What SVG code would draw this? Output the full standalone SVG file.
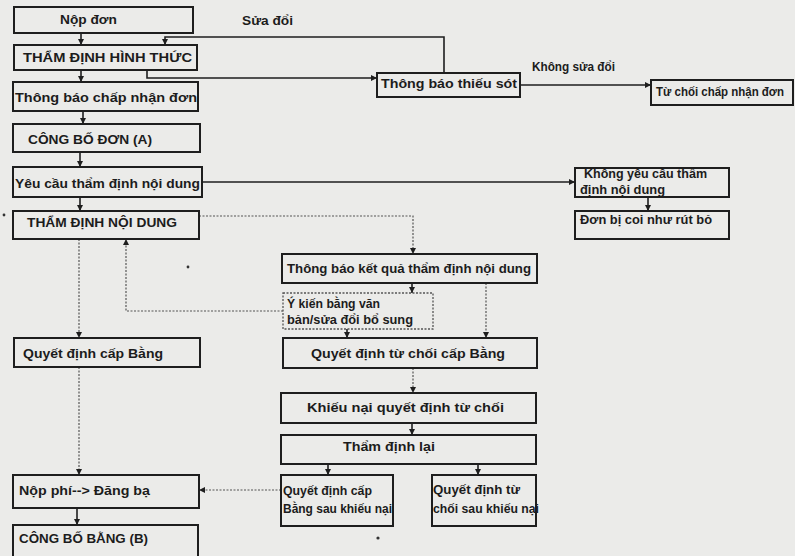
<svg xmlns="http://www.w3.org/2000/svg" width="795" height="556" viewBox="0 0 795 556">
<style>
.bx{fill:none;stroke:#1e1e1e;stroke-width:2}
.bd{fill:none;stroke:#555;stroke-width:1.3;stroke-dasharray:2 1.5}
.t{font-family:"Liberation Sans",Arial,sans-serif;font-weight:bold;font-size:13px;fill:#1c1c1c}
.s{font-size:12px}
.c{fill:none;stroke:#1e1e1e;stroke-width:1.6}
.d{fill:none;stroke:#555;stroke-width:1.2;stroke-dasharray:2 1.5}
</style>
<defs>
<marker id="ah" viewBox="0 0 10 10" refX="10" refY="5" markerWidth="7" markerHeight="6" orient="auto" markerUnits="userSpaceOnUse"><path d="M0,0 L10,5 L0,10 z" fill="#1e1e1e"/></marker>
</defs>
<rect width="795" height="556" fill="#ebebe9"/>
<g id="connectors">
<path class="c" d="M81,33 V45" marker-end="url(#ah)"/>
<path class="c" d="M81,70 V82" marker-end="url(#ah)"/>
<path class="c" d="M83,111 V124" marker-end="url(#ah)"/>
<path class="c" d="M80,152 V167" marker-end="url(#ah)"/>
<path class="c" d="M80,197 V211" marker-end="url(#ah)"/>
<path class="c" d="M444,73 V37 H165 V45" marker-end="url(#ah)"/>
<path class="c" d="M147,70 V78 H377" marker-end="url(#ah)"/>
<path class="c" d="M520,85 H651" marker-end="url(#ah)"/>
<path class="c" d="M202,182 H575" marker-end="url(#ah)"/>
<path class="c" d="M648,197 V211" marker-end="url(#ah)"/>
<path class="d" d="M199,216 H413 V254" marker-end="url(#ah)"/>
<path class="c" d="M412,283 V293" marker-end="url(#ah)"/>
<path class="d" d="M486,283 V338" marker-end="url(#ah)"/>
<path class="c" d="M347,329 V338" marker-end="url(#ah)"/>
<path class="d" d="M283,311 H126 V239" marker-end="url(#ah)"/>
<path class="d" d="M79,239 V338" marker-end="url(#ah)"/>
<path class="d" d="M79,367 V475" marker-end="url(#ah)"/>
<path class="d" d="M413,368 V393" marker-end="url(#ah)"/>
<path class="c" d="M412,423 V435" marker-end="url(#ah)"/>
<path class="c" d="M328,464 V475" marker-end="url(#ah)"/>
<path class="c" d="M478,464 V475" marker-end="url(#ah)"/>
<path class="d" d="M281,490 H199" marker-end="url(#ah)"/>
<path class="c" d="M77,508 V525" marker-end="url(#ah)"/>
<text class="t" x="242" y="25" textLength="51" lengthAdjust="spacingAndGlyphs">Sửa đổi</text>
<text class="t s" x="532" y="71" textLength="83" lengthAdjust="spacingAndGlyphs">Không sửa đổi</text>
</g>
<g id="n1"><rect class="bx" x="14" y="7" width="179" height="26"/><text class="t" x="60" y="24" textLength="57" lengthAdjust="spacingAndGlyphs">Nộp đơn</text></g>
<g id="n2"><rect class="bx" x="14" y="45" width="183" height="25"/><text class="t" x="23" y="62" textLength="169" lengthAdjust="spacingAndGlyphs">THẨM ĐỊNH HÌNH THỨC</text></g>
<g id="n3"><rect class="bx" x="13" y="82" width="185" height="29"/><text class="t" x="15" y="102" textLength="182" lengthAdjust="spacingAndGlyphs">Thông báo chấp nhận đơn</text></g>
<g id="n4"><rect class="bx" x="13" y="124" width="187" height="28"/><text class="t" x="28" y="144" textLength="124" lengthAdjust="spacingAndGlyphs">CÔNG BỐ ĐƠN (A)</text></g>
<g id="n5"><rect class="bx" x="13" y="167" width="189" height="30"/><text class="t" x="15" y="188" textLength="185" lengthAdjust="spacingAndGlyphs">Yêu cầu thẩm định nội dung</text></g>
<g id="n6"><rect class="bx" x="13" y="211" width="186" height="28"/><text class="t" x="27" y="227" textLength="150" lengthAdjust="spacingAndGlyphs">THẨM ĐỊNH NỘI DUNG</text></g>
<g id="n7"><rect class="bx" x="377" y="73" width="143" height="24"/><text class="t" x="381" y="88" textLength="136" lengthAdjust="spacingAndGlyphs">Thông báo thiếu sót</text></g>
<g id="n8"><rect class="bx" x="651" y="80" width="142" height="25"/><text class="t s" x="656" y="96" textLength="128" lengthAdjust="spacingAndGlyphs">Từ chối chấp nhận đơn</text></g>
<g id="n9"><rect class="bx" x="575" y="168" width="154" height="29"/><text class="t s" x="584" y="178" textLength="123" lengthAdjust="spacingAndGlyphs">Không yêu cầu thẩm</text><text class="t s" x="580" y="194" textLength="85" lengthAdjust="spacingAndGlyphs">định nội dung</text></g>
<g id="n10"><rect class="bx" x="575" y="211" width="154" height="28"/><text class="t s" x="580" y="224" textLength="132" lengthAdjust="spacingAndGlyphs">Đơn bị coi như rút bỏ</text></g>
<g id="n11"><rect class="bx" x="282" y="254" width="255" height="29"/><text class="t" x="287" y="273" textLength="244" lengthAdjust="spacingAndGlyphs">Thông báo kết quả thẩm định nội dung</text></g>
<g id="n12"><rect class="bd" x="283" y="293" width="150" height="36"/><text class="t s" x="287" y="308" textLength="93" lengthAdjust="spacingAndGlyphs">Ý kiến bằng văn</text><text class="t s" x="287" y="324" textLength="126" lengthAdjust="spacingAndGlyphs">bản/sửa đổi bổ sung</text></g>
<g id="n13"><rect class="bx" x="14" y="338" width="186" height="29"/><text class="t" x="23" y="358" textLength="140" lengthAdjust="spacingAndGlyphs">Quyết định cấp Bằng</text></g>
<g id="n14"><rect class="bx" x="283" y="338" width="254" height="30"/><text class="t" x="311" y="358" textLength="194" lengthAdjust="spacingAndGlyphs">Quyết định từ chối cấp Bằng</text></g>
<g id="n15"><rect class="bx" x="281" y="393" width="255" height="30"/><text class="t" x="307" y="412" textLength="197" lengthAdjust="spacingAndGlyphs">Khiếu nại quyết định từ chối</text></g>
<g id="n16"><rect class="bx" x="281" y="435" width="255" height="29"/><text class="t" x="343" y="451" textLength="92" lengthAdjust="spacingAndGlyphs">Thẩm định lại</text></g>
<g id="n17"><rect class="bx" x="281" y="475" width="112" height="51"/><text class="t s" x="283" y="495" textLength="89" lengthAdjust="spacingAndGlyphs">Quyết định cấp</text><text class="t s" x="283" y="513" textLength="109" lengthAdjust="spacingAndGlyphs">Bằng sau khiếu nại</text></g>
<g id="n18"><rect class="bx" x="432" y="475" width="104" height="51"/><text class="t s" x="433" y="494" textLength="87" lengthAdjust="spacingAndGlyphs">Quyết định từ</text><text class="t s" x="433" y="513" textLength="106" lengthAdjust="spacingAndGlyphs">chối sau khiếu nại</text></g>
<g id="n19"><rect class="bx" x="13" y="475" width="186" height="33"/><text class="t" x="19" y="495" textLength="131" lengthAdjust="spacingAndGlyphs">Nộp phí--&gt; Đăng bạ</text></g>
<g id="n20"><rect class="bx" x="13" y="525" width="185" height="40"/><text class="t" x="19" y="543" textLength="129" lengthAdjust="spacingAndGlyphs">CÔNG BỐ BẰNG (B)</text></g>
<circle cx="4" cy="215" r="1.4" fill="#333"/>
<circle cx="188" cy="267" r="1.4" fill="#333"/>
<circle cx="378" cy="538" r="1.6" fill="#333"/>
</svg>
